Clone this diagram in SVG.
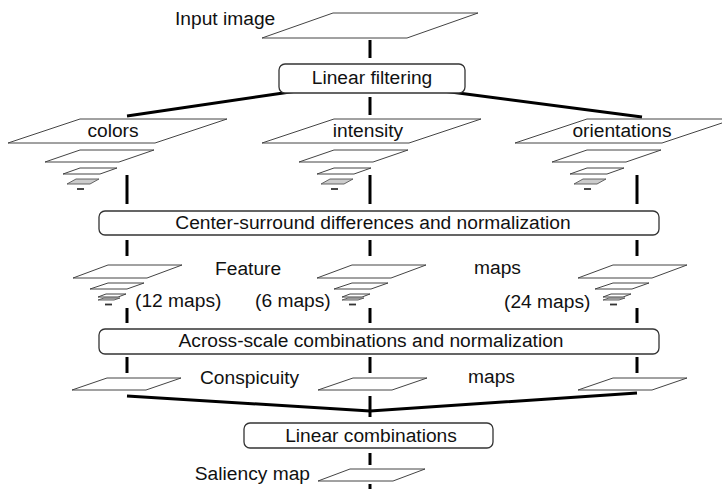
<svg xmlns="http://www.w3.org/2000/svg" width="722" height="489" viewBox="0 0 722 489">
<style>
  text { font-family: "Liberation Sans", Arial, sans-serif; font-size: 19.2px; fill: #111; }
  .c { text-anchor: middle; }
  .box { fill: #fff; stroke: #333; stroke-width: 1.3; }
  .pl { fill: #fff; stroke: #444; stroke-width: 1; }
  .pg { fill: #ccc; stroke: #555; stroke-width: 0.9; }
  .dash { stroke: #333; stroke-width: 1.8; }
  .conn { stroke: #000; stroke-width: 3; fill: none; }
</style>
<defs>
  <g id="pyr">
    <polygon class="pl" points="0,0 147,0 75,24 -72,24"/>
    <polygon class="pl" points="0,31 74,31 39,43 -35,43"/>
    <polygon class="pl" points="0,49 37,49 20,55 -17,55"/>
    <polygon class="pg" points="-4,60 19,60 10,65 -13,65"/>
    <line class="dash" x1="-3" y1="70" x2="4" y2="70"/>
  </g>
  <g id="feat">
    <polygon class="pl" points="0,0 74,0 39,13 -35,13"/>
    <polygon class="pl" points="0,18 36,18 19,24 -18,24"/>
    <polygon class="pl" points="-2,29 18,29 10,32 -10,32"/>
    <polygon class="pg" points="-4,33 12,33 6,35 -10,35"/>
    <line class="dash" x1="-3" y1="39.5" x2="4" y2="39.5"/>
  </g>
  <polygon id="consp" class="pl" points="0,0 74,0 39,12 -35,12"/>
</defs>

<g id="connectors">
  <line class="conn" x1="370" y1="40" x2="370" y2="58"/>
  <line class="conn" x1="297" y1="91" x2="127" y2="116"/>
  <line class="conn" x1="443" y1="91" x2="642" y2="117"/>
  <line class="conn" x1="370" y1="97" x2="370" y2="115"/>
  <line class="conn" x1="127" y1="175" x2="127" y2="204"/>
  <line class="conn" x1="370" y1="175" x2="370" y2="204"/>
  <line class="conn" x1="637" y1="175" x2="637" y2="204"/>
  <line class="conn" x1="127" y1="240" x2="127" y2="256"/>
  <line class="conn" x1="370" y1="240" x2="370" y2="256"/>
  <line class="conn" x1="637" y1="240" x2="637" y2="256"/>
  <line class="conn" x1="127" y1="308" x2="127" y2="323"/>
  <line class="conn" x1="370" y1="308" x2="370" y2="323"/>
  <line class="conn" x1="637" y1="308" x2="637" y2="323"/>
  <line class="conn" x1="127" y1="357" x2="127" y2="373"/>
  <line class="conn" x1="370" y1="357" x2="370" y2="373"/>
  <line class="conn" x1="637" y1="357" x2="637" y2="373"/>
  <polyline class="conn" points="127,396 370,411 637,393"/>
  <line class="conn" x1="370" y1="396" x2="370" y2="417"/>
  <line class="conn" x1="370" y1="453" x2="370" y2="465"/>
  <line class="conn" x1="370" y1="484" x2="370" y2="489"/>
</g>

<g id="input-image">
  <polygon class="pl" points="333,13 478,13 407,38 262,38"/>
  <text x="175" y="25">Input image</text>
</g>

<g id="linear-filtering">
  <rect class="box" x="279" y="64" width="186" height="29" rx="6"/>
  <text class="c" x="372" y="84">Linear filtering</text>
</g>

<g id="colors">
  <use href="#pyr" transform="translate(80,119)"/>
  <text class="c" x="113" y="137">colors</text>
</g>
<g id="intensity">
  <use href="#pyr" transform="translate(334,119)"/>
  <text class="c" x="368" y="137">intensity</text>
</g>
<g id="orientations">
  <use href="#pyr" transform="translate(587,119)"/>
  <text class="c" x="622" y="137">orientations</text>
</g>

<g id="center-surround">
  <rect class="box" x="99" y="211" width="560" height="24" rx="6"/>
  <text class="c" x="373" y="229">Center-surround differences and normalization</text>
</g>

<g id="feature-maps">
  <use href="#feat" transform="translate(108,265)"/>
  <use href="#feat" transform="translate(352,265)"/>
  <use href="#feat" transform="translate(613,265)"/>
  <text x="215" y="275">Feature</text>
  <text x="474" y="274">maps</text>
  <text x="135" y="307">(12 maps)</text>
  <text x="255" y="307">(6 maps)</text>
  <text x="504" y="308">(24 maps)</text>
</g>

<g id="across-scale">
  <rect class="box" x="99" y="329" width="560" height="25" rx="6"/>
  <text class="c" x="371" y="347">Across-scale combinations and normalization</text>
</g>

<g id="conspicuity-maps">
  <use href="#consp" transform="translate(107,378)"/>
  <use href="#consp" transform="translate(353,378)"/>
  <use href="#consp" transform="translate(613,378)"/>
  <text x="200" y="384">Conspicuity</text>
  <text x="468" y="383">maps</text>
</g>

<g id="linear-combinations">
  <rect class="box" x="244" y="423" width="249" height="25" rx="6"/>
  <text class="c" x="371" y="442">Linear combinations</text>
</g>

<g id="saliency-map">
  <polygon class="pl" points="350,469 425,469 393,481 318,481"/>
  <text x="310" y="480" text-anchor="end">Saliency map</text>
</g>
</svg>
